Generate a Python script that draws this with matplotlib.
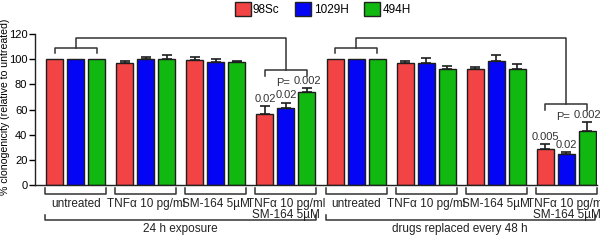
import numpy as np
import matplotlib
matplotlib.use("Agg")
import matplotlib.pyplot as plt
from matplotlib.patches import Patch

plt.rcParams['font.family'] = ['Liberation Sans Narrow', 'Liberation Sans', 'DejaVu Sans']

# -----------------------------------------------------
# data
# -----------------------------------------------------
cell_lines = ["98Sc", "1029H", "494H"]
colors = ["#f24444", "#0505f5", "#10b810"]
treatments = ["untreated", "TNF\u03b1 10 pg/ml", "SM-164 5\u00b5M",
              "TNF\u03b1 10 pg/ml\nSM-164 5\u00b5M"] * 2
regimes = ["24 h exposure", "drugs replaced every 48 h"]

red = [100, 96.8, 99.2, 56.1, 100, 97.1, 92.0, 28.6]
red_err = [0, 1.9, 2.6, 6.6, 0, 1.6, 1.9, 3.7]
blue = [100, 100.5, 97.4, 60.8, 100, 96.6, 98.9, 24.6]
blue_err = [0, 1.3, 2.6, 4.5, 0, 4.4, 4.8, 1.6]
green = [100, 100.3, 97.4, 74.0, 100, 91.8, 91.8, 42.9]
green_err = [0, 2.8, 1.3, 2.7, 0, 2.4, 4.7, 6.8]

# p-values over the combination groups (group index, bar index, text)
pvals = [(3, 0, "0.02"), (3, 1, "0.02"), (3, 2, "0.002"),
         (7, 0, "0.005"), (7, 1, "0.02"), (7, 2, "0.002")]

values = [red, blue, green]
errors = [red_err, blue_err, green_err]

# -----------------------------------------------------
# figure
# -----------------------------------------------------
fig = plt.figure(figsize=(6, 2.41), dpi=100)
ax = fig.add_axes([35 / 600, 56 / 241, 562 / 600, 151 / 241])

step = 70 / 21
group_x = np.arange(len(red)) * step
width = 17 / 21

for i in range(3):
    x = group_x + i
    err = np.array(errors[i])
    ax.bar(x, values[i], width=width, color=colors[i], edgecolor="#1e1e1e",
           linewidth=1.0, zorder=2)
    mask = err > 0
    ax.errorbar(x[mask], np.array(values[i])[mask],
                yerr=[np.zeros(mask.sum()), err[mask]],
                fmt="none", ecolor="#1e1e1e", elinewidth=1.2,
                capsize=3.6, capthick=1.2, zorder=3)

ax.set_ylim(0, 120)
ax.set_xlim(-19.5 / 21, (596 - 54.5) / 21)
ax.set_yticks(range(0, 121, 20))
ax.tick_params(axis="y", labelsize=8, length=4, width=1, pad=1.5)
ax.set_xticks([])
for s in ["top", "right"]:
    ax.spines[s].set_visible(False)
for s in ["left", "bottom"]:
    ax.spines[s].set_linewidth(1.0)
    ax.spines[s].set_color("#222222")

ax.set_ylabel("% clonogenicity (relative to untreated)", fontsize=7.55)
ax.yaxis.set_label_coords(-24.5 / 562, 0.52)

lc = "#333333"
lw = 1.1

# p-value labels
for g, i, txt in pvals:
    top = values[i][g] + errors[i][g]
    ax.text(group_x[g] + i, top + 2.0, txt, ha="center", va="bottom",
            fontsize=8, color="#333333")

# comparison brackets (untreated vs combination)
for g0, g1 in [(0, 3), (4, 7)]:
    y0 = 109
    ax.plot([group_x[g0], group_x[g0], group_x[g0] + 2, group_x[g0] + 2],
            [y0 - 4.2, y0, y0, y0 - 4.2], color=lc, lw=lw, clip_on=False)
    top = max(values[i][g1] + errors[i][g1] for i in range(3))
    y1 = top + 14.5
    ax.plot([group_x[g0] + 1, group_x[g0] + 1, group_x[g1] + 1, group_x[g1] + 1],
            [y0, 116.7, 116.7, y1], color=lc, lw=lw, clip_on=False)
    ax.plot([group_x[g1], group_x[g1], group_x[g1] + 2, group_x[g1] + 2],
            [y1 - 4.8, y1, y1, y1 - 4.8], color=lc, lw=lw, clip_on=False)
    ax.text(group_x[g1] + 0.85, y1 - 6.0, "P=", ha="center", va="top",
            fontsize=8, color="#333333")

# treatment brackets under the axis
for g, lab in enumerate(treatments):
    xl = group_x[g] - 0.45
    xr = group_x[g] + 2.45
    ax.plot([xl, xl, xr, xr], [-2.4, -7.1, -7.1, -2.4], color=lc, lw=lw,
            clip_on=False)
    ax.text(group_x[g] + 1, -10.2, lab, ha="center", va="top", fontsize=8.5,
            linespacing=0.9, color="#222222")

# regime brackets
for k, lab in enumerate(regimes):
    xl = group_x[4 * k] - 0.45
    xr = group_x[4 * k + 3] + 2.45 if k == 0 else (596 - 54.5) / 21 - 0.1
    ax.plot([xl, xl, xr, xr], [-23.8, -27.8, -27.8, -23.8], color=lc, lw=lw,
            clip_on=False)
    ax.text((xl + xr) / 2, -30.2, lab, ha="center", va="top", fontsize=8.5,
            color="#222222")

# legend
handles = [Patch(facecolor=c, edgecolor="#222222", linewidth=1.0, label=l)
           for c, l in zip(colors, cell_lines)]
fig.legend(handles=handles, loc="center", bbox_to_anchor=(0.538, 0.963),
           ncol=3, frameon=False, fontsize=8.5, handlelength=1.35,
           handleheight=1.4, handletextpad=0.2, columnspacing=1.35,
           borderpad=0, borderaxespad=0)

fig.savefig("out.png", dpi=100)
